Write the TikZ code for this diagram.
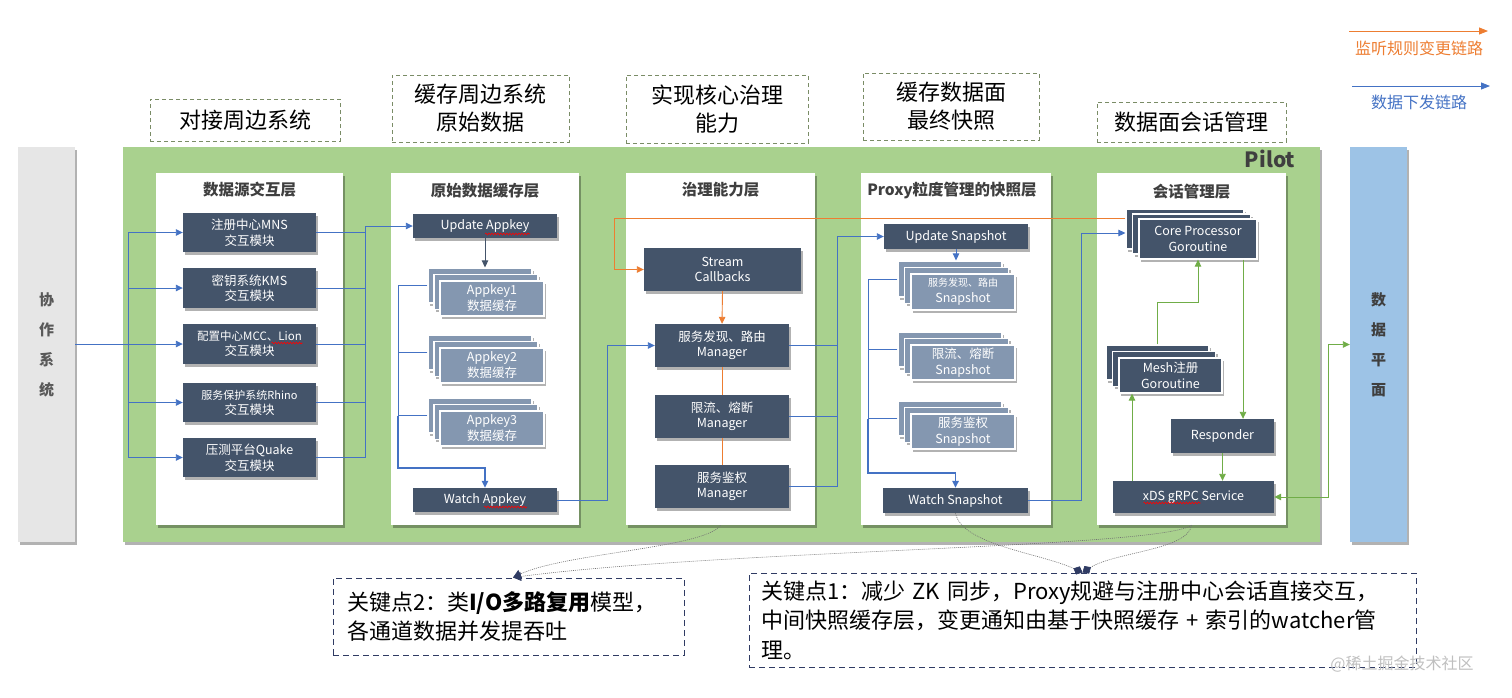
\documentclass[tikz,border=0pt]{standalone}
\usepackage{fontspec}
\setmainfont{Noto Sans CJK SC}
\usetikzlibrary{arrows.meta,shadows,calc,decorations.pathmorphing}
\definecolor{cDark}{HTML}{44546A}
\definecolor{cLight}{HTML}{8497B0}
\definecolor{cGreen}{HTML}{A9D18E}
\definecolor{cBlueBar}{HTML}{9DC3E6}
\definecolor{cGray}{HTML}{E6E6E6}
\definecolor{cBlue}{HTML}{4472C4}
\definecolor{cOrange}{HTML}{ED7D31}
\definecolor{cGLine}{HTML}{70AD47}
\definecolor{cTitle}{HTML}{3F3F3F}
\definecolor{cOlive}{HTML}{7A8C66}
\definecolor{cNavy}{HTML}{2F3B63}
\newcommand\fs[2]{\fontsize{#1}{#2}\selectfont}
\newcommand\mystack[8]{%
 \node[lightbox,minimum width=#4pt,minimum height=#5pt] (#1b) at ({#2-2*#6},{#3-2*#7}) {};
 \node[lightbox,minimum width=#4pt,minimum height=#5pt] (#1m) at ({#2-#6},{#3-#7}) {};
 \node[lightbox,minimum width=#4pt,minimum height=#5pt] (#1) at (#2,#3) {#8};}
\begin{document}
\begin{tikzpicture}[x=1pt,y=-1pt,
 shd/.style={drop shadow={shadow xshift=2pt,shadow yshift=-2.5pt,opacity=0.3,fill=black}},
 darkbox/.style={fill=cDark,text=white,align=center,inner sep=0pt,font=\fs{12.5}{15.5},shd},
 lightbox/.style={fill=cLight,draw=white,line width=1.2pt,text=white,align=center,inner sep=0pt,font=\fs{12.5}{16},shd},
 panel/.style={fill=white,inner sep=0pt,shd,minimum height=352pt},
 ptitle/.style={font=\fs{15.5}{18}\bfseries,text=cTitle},
 tbox/.style={draw=cOlive,line width=1pt,dash pattern=on 4pt off 3pt,align=center,font=\fs{22}{28},inner sep=0pt,text=black},
 note/.style={draw=cNavy,line width=1pt,dash pattern=on 6pt off 4pt,align=left,font=\fs{22}{29.5},inner sep=0pt,text=black},
 bl/.style={draw=cBlue,line width=0.9pt},
 ol/.style={draw=cOrange,line width=0.9pt},
 gl/.style={draw=cGLine,line width=0.9pt},
 tip/.style={-{Triangle[length=7pt,width=6.5pt]}},
 dotc/.style={draw=black!55,line width=0.6pt,dash pattern=on 1pt off 1pt},
 squig/.style={draw=red,line width=0.6pt,decorate,decoration={snake,amplitude=0.9pt,segment length=3pt}},
]
\useasboundingbox (0,0) rectangle (1512,697);

% side bars and pilot
\node[fill=cGray,shd,minimum width=57pt,minimum height=395pt,inner sep=0pt,align=center,font=\fs{15}{30}\bfseries,text=black!65] (collab) at (46.5,344.5) {协\\作\\系\\统};
\node[fill=cGreen,shd,minimum width=1197pt,minimum height=395pt,inner sep=0pt] (pilot) at (721.5,344.5) {};
\node[font=\fs{21}{24}\bfseries,text=cTitle] (pilotlbl) at (1270,159) {Pilot};
\node[fill=cBlueBar,shd,minimum width=57pt,minimum height=395pt,inner sep=0pt,align=center,font=\fs{15}{30}\bfseries,text=cTitle] (dp) at (1378.5,344.5) {数\\据\\平\\面};

% top dashed labels
\node[tbox,minimum width=190pt,minimum height=42pt] (t1) at (245,120) {对接周边系统};
\node[tbox,minimum width=177pt,minimum height=67pt] (t2) at (480.5,108.5) {缓存周边系统\\原始数据};
\node[tbox,minimum width=182pt,minimum height=68pt] (t3) at (717,109) {实现核心治理\\能力};
\node[tbox,minimum width=176pt,minimum height=67pt] (t4) at (951,106.5) {缓存数据面\\最终快照};
\node[tbox,minimum width=189pt,minimum height=40pt] (t5) at (1191.5,122) {数据面会话管理};

% panels
\node[panel,minimum width=187pt] (p1) at (249.5,349) {};
\node[panel,minimum width=188pt] (p2) at (485,349) {};
\node[panel,minimum width=189pt] (p3) at (720.5,349) {};
\node[panel,minimum width=190pt] (p4) at (956,349) {};
\node[panel,minimum width=189pt] (p5) at (1191.5,349) {};
\node[ptitle] (p1t) at (249.5,190) {数据源交互层};
\node[ptitle] (p2t) at (485,191) {原始数据缓存层};
\node[ptitle] (p3t) at (720.5,190) {治理能力层};
\node[ptitle] (p4t) at (952,190) {Proxy粒度管理的快照层};
\node[ptitle] (p5t) at (1191.5,192) {会话管理层};

% column 1
\node[darkbox,minimum width=133pt,minimum height=39pt] (mns) at (249.5,232.5) {注册中心MNS\\交互模块};
\node[darkbox,minimum width=133pt,minimum height=40pt] (kms) at (249.5,288) {密钥系统KMS\\交互模块};
\node[darkbox,minimum width=133pt,minimum height=40pt,font=\fs{11.5}{15}] (mcc) at (249.5,344) {配置中心MCC、Lion\\{\fs{12.5}{15}交互模块}};
\node[darkbox,minimum width=133pt,minimum height=39pt,font=\fs{11}{15}] (rhino) at (249.5,402.5) {服务保护系统Rhino\\{\fs{12.5}{15}交互模块}};
\node[darkbox,minimum width=133pt,minimum height=39pt] (quake) at (249.5,457.5) {压测平台Quake\\交互模块};

% column 2
\node[darkbox,minimum width=144pt,minimum height=24pt] (upA) at (485,226) {Update Appkey};
\mystack{ak1}{492}{298.5}{104}{35}{6}{6.5}{Appkey1\\数据缓存}
\mystack{ak2}{492}{365.5}{104}{35}{6}{6.5}{Appkey2\\数据缓存}
\mystack{ak3}{492}{428.5}{104}{35}{6}{6.5}{Appkey3\\数据缓存}
\node[darkbox,minimum width=144pt,minimum height=24pt] (watchA) at (485,500) {Watch Appkey};

% column 3
\node[darkbox,minimum width=157pt,minimum height=43pt] (sc) at (722.5,269.5) {Stream\\Callbacks};
\node[darkbox,minimum width=134pt,minimum height=43pt] (sd) at (722,345.5) {服务发现、路由\\Manager};
\node[darkbox,minimum width=134pt,minimum height=43pt] (rl) at (722,416.5) {限流、熔断\\Manager};
\node[darkbox,minimum width=134pt,minimum height=43pt] (au) at (722,486.5) {服务鉴权\\Manager};

% column 4
\node[darkbox,minimum width=144pt,minimum height=25pt] (upS) at (956,236.5) {Update Snapshot};
\mystack{s1}{963}{292}{104}{36}{6.5}{6.5}{{\fs{10}{14}服务发现、路由}\\Snapshot}
\mystack{s2}{963}{362.5}{104}{35}{6.5}{6.5}{限流、熔断\\Snapshot}
\mystack{s3}{963}{431.5}{104}{35}{6.5}{6.5}{服务鉴权\\Snapshot}
\node[darkbox,minimum width=145pt,minimum height=25pt] (watchS) at (955.5,500.5) {Watch Snapshot};

% column 5
\begin{scope}[lightbox/.append style={fill=cDark}]
\mystack{core}{1198}{239}{118}{40}{6.5}{5}{Core Processor\\Goroutine}
\mystack{mesh}{1170.5}{375.5}{103}{35}{6.5}{6.5}{Mesh注册\\Goroutine}
\end{scope}
\node[darkbox,minimum width=103pt,minimum height=34pt] (resp) at (1222.5,436) {Responder};
\node[darkbox,minimum width=161pt,minimum height=32pt] (xds) at (1193.5,497) {xDS gRPC Service};

% spell-check squiggles
\draw[squig] ($(mcc.center)+(22,-1)$) -- ($(mcc.center)+(53,-1)$);
\draw[squig] ($(upA.center)+(0,8)$) -- ($(upA.center)+(45,8)$);
\draw[squig] ($(watchA.center)+(-1,7)$) -- ($(watchA.center)+(42,7)$);
\draw[squig] ($(xds.center)+(-50,6)$) -- ($(xds.center)+(7,6)$);

% helper coordinates
\coordinate (bL) at (128,344.5);
\coordinate (bR) at (365,0);
\coordinate (b2) at (398,0);
\coordinate (y468) at (0,468);
\coordinate (c607) at (607,0);
\coordinate (c614) at (614,0);
\coordinate (y218) at (0,218);
\coordinate (c837) at (837,0);
\coordinate (c868) at (868,0);
\coordinate (y473) at (0,473);
\coordinate (c1081) at (1081,0);
\coordinate (y233) at (0,233);
\coordinate (y302) at (0,302);
\coordinate (c1243) at (1243,0);
\coordinate (c1132) at (1132,0);
\coordinate (c1328) at (1328,0);

% column 1 connectors
\draw[bl] (collab.east) -- (bL);
\draw[bl] (bL |- mns.west) -- (bL |- quake.west);
\foreach \n in {mns,kms,mcc,rhino,quake} \draw[bl,tip] (bL |- \n.west) -- (\n.west);
\foreach \n in {mns,kms,mcc,rhino,quake} \draw[bl] (\n.east) -- (bR |- \n.east);
\draw[bl,tip] (bR |- quake.east) -- (bR |- upA.west) -- (upA.west);

% column 2 connectors
\draw[draw=cDark,line width=0.9pt,tip] (upA.south) -- (upA.south |- ak1b.north);
\foreach \n in {ak1b,ak2b,ak3b} \draw[bl] (\n.west) -- (b2 |- \n.west);
\draw[bl] (b2 |- ak1b.west) -- (b2 |- ak3b.west);
\draw[bl,line width=1.4pt,tip] (b2 |- ak3b.west) -- (b2 |- y468) -- (watchA.north |- y468) -- (watchA.north);
\draw[bl,tip] (watchA.east) -- (c607 |- watchA.east) -- (c607 |- sd.west) -- (sd.west);

% column 3 connectors
\draw[ol,tip] (coreb.west |- y218) -- (c614 |- y218) -- (c614 |- sc.west) -- (sc.west);
\draw[ol,tip] (sc.south) -- (sd.north);
\draw[ol] (sd.south) -- (rl.north);
\draw[ol] (rl.south) -- (au.north);
\foreach \n in {sd,rl,au} \draw[bl] (\n.east) -- (c837 |- \n.east);
\draw[bl,tip] (c837 |- au.east) -- (c837 |- upS.west) -- (upS.west);

% column 4 connectors
\draw[bl,tip] (upS.south) -- (upS.south |- s1b.north);
\foreach \n in {s1b,s2b,s3b} \draw[bl] (\n.west) -- (c868 |- \n.west);
\draw[bl] (c868 |- s1b.west) -- (c868 |- s3b.west);
\draw[bl,line width=1.4pt,tip] (c868 |- s3b.west) -- (c868 |- y473) -- (watchS.north |- y473) -- (watchS.north);
\draw[bl,tip] (watchS.east) -- (c1081 |- watchS.east) -- (c1081 |- y233) -- (coreb.west |- y233);

% column 5 connectors
\draw[gl,tip] (meshb.north) -- (meshb.north |- y302) -- (core.south |- y302) -- (core.south);
\draw[gl,tip] (c1243 |- core.south) -- (c1243 |- resp.north);
\draw[gl,tip] (resp.south) -- (resp.south |- xds.north);
\draw[gl,tip] (c1132 |- xds.north) -- (c1132 |- mesh.south);
\draw[gl,{Triangle[length=7pt,width=6.5pt]}-{Triangle[length=7pt,width=6.5pt]}] (xds.east) -- (c1328 |- xds.east) -- (c1328 |- dp.west) -- (dp.west);

% legend
\coordinate (lo1) at (1349,31); \coordinate (lo2) at (1488,31);
\draw[ol,-{Triangle[length=9pt,width=7pt]}] (lo1) -- (lo2);
\node[font=\fs{16}{18},text=cOrange] (lot) at (1419,48) {监听规则变更链路};
\coordinate (lb1) at (1352,86); \coordinate (lb2) at (1490,86);
\draw[bl,-{Triangle[length=9pt,width=7pt]}] (lb1) -- (lb2);
\node[font=\fs{16}{18},text=cBlue] (lbt) at (1419,102) {数据下发链路};

% notes
\node[note,minimum width=351pt,minimum height=77pt,text width=323pt] (n2) at (508.5,616.5) {关键点2：类\textbf{I/O多路复用}模型，\\各通道数据并发提吞吐};
\node[note,minimum width=667pt,minimum height=94pt,text width=643pt] (n1) at (1082.5,620) {关键点1：减少 ZK 同步，Proxy规避与注册中心会话直接交互，\\中间快照缓存层，变更通知由基于快照缓存 + 索引的watcher管\\理。};
\node[font=\fs{16}{18},text=black!25] (wm) at (1402,664) {@稀土掘金技术社区};

% dotted callouts
\draw[dotc,-{Triangle[length=8pt,width=9pt,color=cNavy]}] (p3.south) .. controls (705,548) and (565,553) .. ($(n2.north)+(4.5,0)$);
\draw[dotc,-{Triangle[length=8pt,width=9pt,color=cNavy]}] (p5.south) .. controls (1160,548) and (720,550) .. ($(n2.north)+(4.5,0)$);
\draw[dotc,-{Diamond[length=10pt,width=9pt,color=cNavy]}] (watchS.south) .. controls (962,545) and (1040,553) .. (n1.north);
\draw[dotc,-{Diamond[length=10pt,width=9pt,color=cNavy]}] (p5.south) .. controls (1188,550) and (1115,552) .. (n1.north);
\end{tikzpicture}
\end{document}
